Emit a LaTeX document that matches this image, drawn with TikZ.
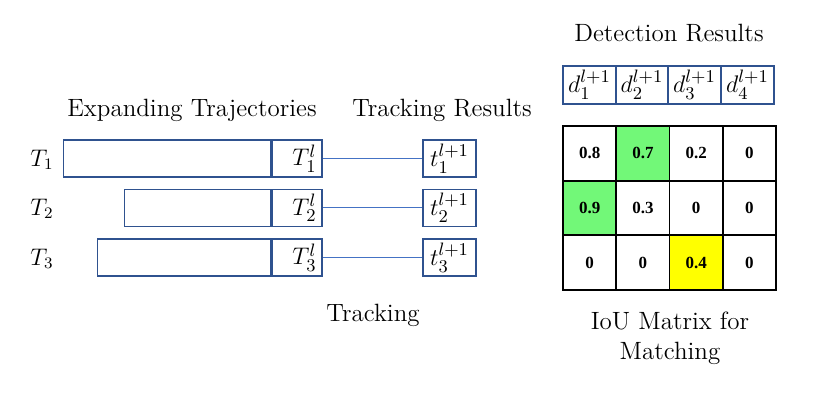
\documentclass[tikz,border=0pt]{standalone}
\usepackage{fontspec}
\usepackage{amsmath}
\usetikzlibrary{positioning}
\newfontfamily\numfont{Liberation Serif}
\definecolor{boxblue}{RGB}{47,82,143}
\definecolor{lineblue}{RGB}{68,114,196}
\definecolor{hitgreen}{RGB}{114,248,120}
\definecolor{hityellow}{RGB}{255,255,0}

\begin{document}
\begin{tikzpicture}[
  x=0.5pt, y=-0.5pt,
  cell/.style={rectangle, draw=boxblue, line width=0.8pt,
    minimum height=18.5pt, inner sep=0pt, font=\fontsize{12.5}{14}\selectfont},
  lastcell/.style={cell, minimum width=25pt, text width=19.5pt, align=right},
  trajbox/.style={cell, anchor=east},
  resbox/.style={cell, minimum width=26.5pt},
  detbox/.style={cell, minimum width=26.3pt, minimum height=19pt},
  iou/.style={rectangle, draw=black, line width=0.9pt, fill=white,
    minimum width=26.6pt, minimum height=27.3pt, inner sep=0pt,
    font=\numfont\fontsize{8.5}{9}\selectfont\bfseries},
  link/.style={draw=lineblue, line width=0.5pt},
  title/.style={font=\fontsize{12.5}{15}\selectfont, align=center},
  rowlabel/.style={font=\fontsize{12}{14}\selectfont},
]
\useasboundingbox (0,0) rectangle (830,394);
% ====== TITLES ======
\node[title] (t_traj) at (192,110) {Expanding Trajectories};
\node[title] (t_res) at (442,110) {Tracking Results};
\node[title] (t_track) at (373,315) {Tracking};
\node[title] (t_iou) at (670,338) {IoU Matrix for\\Matching};
\node[title] (t_det) at (669,33) {Detection Results};
%
% ====== EXPANDING TRAJECTORIES ======
\node[lastcell] (c1) at (297,158.5) {$T_1^l$};
\node[lastcell] (c2) at (297,208) {$T_2^l$};
\node[lastcell] (c3) at (297,257.5) {$T_3^l$};
\node[trajbox, minimum width=103.5pt] (tr1) at (c1.west) {};
\node[trajbox, minimum width=73pt] (tr2) at (c2.west) {};
\node[trajbox, minimum width=86.5pt] (tr3) at (c3.west) {};
\node[rowlabel] (l1) at (42,160) {$T_1$};
\node[rowlabel] (l2) at (42,209) {$T_2$};
\node[rowlabel] (l3) at (42,259) {$T_3$};
%
% ====== TRACKING RESULTS ======
\node[resbox] (r1) at (449.5,158.5) {$t_1^{l+1}$};
\node[resbox] (r2) at (449.5,208) {$t_2^{l+1}$};
\node[resbox] (r3) at (449.5,257.5) {$t_3^{l+1}$};
\draw[link] (c1) -- (r1);
\draw[link] (c2) -- (r2);
\draw[link] (c3) -- (r3);
%
% ====== DETECTION RESULTS ======
\foreach \j/\x in {1/589.5, 2/642, 3/694.5, 4/747.5}
  \node[detbox] (d\j) at (\x,85) {$d_{\j}^{l+1}$};
%
% ====== IOU MATRIX ======
\foreach \v [count=\k from 0] in {0.8,0.7,0.2,0,0.9,0.3,0,0,0,0,0.4,0} {
  \pgfmathtruncatemacro{\i}{int(\k/4)+1}
  \pgfmathtruncatemacro{\j}{mod(\k,4)+1}
  \node[iou] (m\i\j) at ({563+53.25*(\j-0.5)},{126+54.67*(\i-0.5)}) {\v};
}
\node[iou, fill=hitgreen] at (m12) {0.7};
\node[iou, fill=hitgreen] at (m21) {0.9};
\node[iou, fill=hityellow] at (m33) {0.4};
\end{tikzpicture}
\end{document}
